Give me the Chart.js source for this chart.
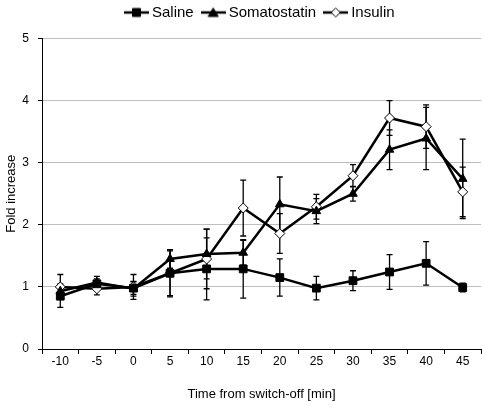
<!DOCTYPE html>
<html>
<head>
<meta charset="utf-8">
<script src="https://cdn.jsdelivr.net/npm/chart.js@4/dist/chart.umd.min.js"></script>
<style>
  html, body { margin: 0; padding: 0; background: #fff; }
  #wrap { width: 482px; height: 406px; }
</style>
</head>
<body>
<div id="wrap"><canvas id="foldChart" width="482" height="406"></canvas></div>
<script>
// time points (min)
const timeLabels = ['-10', '-5', '0', '5', '10', '15', '20', '25', '30', '35', '40', '45'];

// fold increase
const salineMean = [0.85, 1.05, 0.98, 1.22, 1.29, 1.29, 1.15, 0.98, 1.10, 1.24, 1.38, 0.99];
const salineErr  = [0.18, 0.08, 0.10, 0.38, 0.50, 0.47, 0.30, 0.19, 0.16, 0.28, 0.35, 0.07];

const somaMean = [0.93, 1.07, 0.97, 1.45, 1.53, 1.55, 2.33, 2.22, 2.50, 3.21, 3.39, 2.74];
const somaErr  = [0.12, 0.10, 0.12, 0.15, 0.40, 0.20, 0.44, 0.20, 0.12, 0.32, 0.50, 0.64];

const insulinMean = [1.00, 0.97, 1.00, 1.22, 1.45, 2.27, 1.86, 2.29, 2.79, 3.72, 3.58, 2.53];
const insulinErr  = [0.20, 0.10, 0.20, 0.36, 0.48, 0.45, 0.32, 0.20, 0.18, 0.28, 0.35, 0.40];

const yTicks = [0, 1, 2, 3, 4, 5];

const FONT = 'Liberation Sans, Arial, sans-serif';

// little line+marker picture for the legend
function legendIcon(style) {
  const c = document.createElement('canvas');
  c.width = 25; c.height = 12;
  const g = c.getContext('2d');
  g.strokeStyle = '#000';
  g.lineWidth = 2.5;
  g.beginPath(); g.moveTo(0, 6); g.lineTo(25, 6); g.stroke();
  g.lineWidth = 1;
  g.fillStyle = style === 'rectRot' ? '#fff' : '#000';
  g.beginPath();
  if (style === 'rect') {
    g.rect(8.5, 2, 8, 8);
  } else if (style === 'triangle') {
    g.moveTo(12.5, 1.5); g.lineTo(17.5, 10); g.lineTo(7.5, 10); g.closePath();
  } else {
    g.moveTo(12.5, 1.5); g.lineTo(17, 6); g.lineTo(12.5, 10.5); g.lineTo(8, 6); g.closePath();
  }
  g.fill(); g.stroke();
  return c;
}

// draws the +/- error bars under the markers
const errorBars = {
  id: 'errorBars',
  beforeDatasetsDraw(chart) {
    const ctx = chart.ctx;
    const yScale = chart.scales.y;
    ctx.save();
    ctx.strokeStyle = '#000';
    ctx.lineWidth = 1.3;
    chart.data.datasets.forEach((ds, i) => {
      const meta = chart.getDatasetMeta(i);
      meta.data.forEach((pt, j) => {
        const v = ds.data[j], e = ds.errors[j];
        const top = yScale.getPixelForValue(v + e);
        const bot = yScale.getPixelForValue(v - e);
        const x = pt.x;
        ctx.beginPath();
        ctx.moveTo(x, top); ctx.lineTo(x, bot);
        ctx.moveTo(x - 3, top); ctx.lineTo(x + 3, top);
        ctx.moveTo(x - 3, bot); ctx.lineTo(x + 3, bot);
        ctx.stroke();
      });
    });
    ctx.restore();
  }
};

// leave some room between the legend and the plot
const legendGap = {
  id: 'legendGap',
  afterInit(chart) {
    const lg = chart.legend;
    const fit = lg.fit.bind(lg);
    lg.fit = function () {
      fit();
      this.height += 8.5;
    };
  }
};

const ctx = document.getElementById('foldChart').getContext('2d');

new Chart(ctx, {
  type: 'line',
  data: {
    labels: timeLabels,
    datasets: [
      {
        label: 'Saline',
        data: salineMean,
        errors: salineErr,
        borderColor: '#000',
        borderWidth: 2.5,
        pointStyle: 'rect',
        pointRadius: 5.5,
        pointBackgroundColor: '#000',
        pointBorderColor: '#000',
        pointBorderWidth: 1,
        legendIcon: 'rect',
      },
      {
        label: 'Somatostatin',
        data: somaMean,
        errors: somaErr,
        borderColor: '#000',
        borderWidth: 2.5,
        pointStyle: 'triangle',
        pointRadius: 5,
        pointBackgroundColor: '#000',
        pointBorderColor: '#000',
        pointBorderWidth: 1,
        legendIcon: 'triangle',
      },
      {
        label: 'Insulin',
        data: insulinMean,
        errors: insulinErr,
        borderColor: '#000',
        borderWidth: 2.5,
        pointStyle: 'rectRot',
        pointRadius: 5,
        pointBackgroundColor: '#fff',
        pointBorderColor: '#000',
        pointBorderWidth: 1,
        legendIcon: 'rectRot',
      },
    ],
  },
  options: {
    responsive: false,
    animation: false,
    layout: { autoPadding: false, padding: { left: 4, right: 1, top: -6.5, bottom: 4 } },
    plugins: {
      tooltip: { enabled: false },
      legend: {
        position: 'top',
        align: 'center',
        fullSize: false,
        labels: {
          usePointStyle: true,
          pointStyleWidth: 16,
          color: '#000',
          font: { family: FONT, size: 15 },
          padding: 11.5,
          generateLabels(chart) {
            return chart.data.datasets.map((ds, i) => ({
              text: ds.label,
              pointStyle: legendIcon(ds.legendIcon),
              fillStyle: '#000',
              strokeStyle: '#000',
              lineWidth: 0,
              fontColor: '#000',
              hidden: false,
              datasetIndex: i,
            }));
          },
        },
      },
    },
    scales: {
      x: {
        type: 'category',
        offset: true,
        border: { color: '#000', width: 1 },
        grid: {
          offset: true,
          drawOnChartArea: false,
          drawTicks: true,
          tickLength: 5,
          tickColor: '#000',
        },
        ticks: {
          color: '#000',
          font: { family: FONT, size: 12 },
          padding: 0,
          maxRotation: 0,
        },
        title: {
          display: true,
          text: 'Time from switch-off [min]',
          color: '#000',
          font: { family: FONT, size: 13 },
          padding: { top: 18, bottom: 0 },
        },
      },
      y: {
        min: 0,
        max: 5,
        afterBuildTicks(axis) {
          axis.ticks = yTicks.map(v => ({ value: v }));
        },
        afterFit(axis) {
          axis.width = 38;
        },
        border: { color: '#000', width: 1 },
        grid: {
          color: ctx => ctx.tick && ctx.tick.value === 0 ? 'rgba(0,0,0,0)' : '#bdbdbd',
          lineWidth: 1,
          drawTicks: true,
          tickLength: 4,
          tickColor: '#000',
        },
        ticks: {
          color: '#000',
          font: { family: FONT, size: 12 },
          padding: 9,
        },
        title: {
          display: true,
          text: 'Fold increase',
          color: '#000',
          font: { family: FONT, size: 13 },
          padding: { top: 0, bottom: 2 },
        },
      },
    },
  },
  plugins: [errorBars, legendGap],
});
</script>
</body>
</html>
